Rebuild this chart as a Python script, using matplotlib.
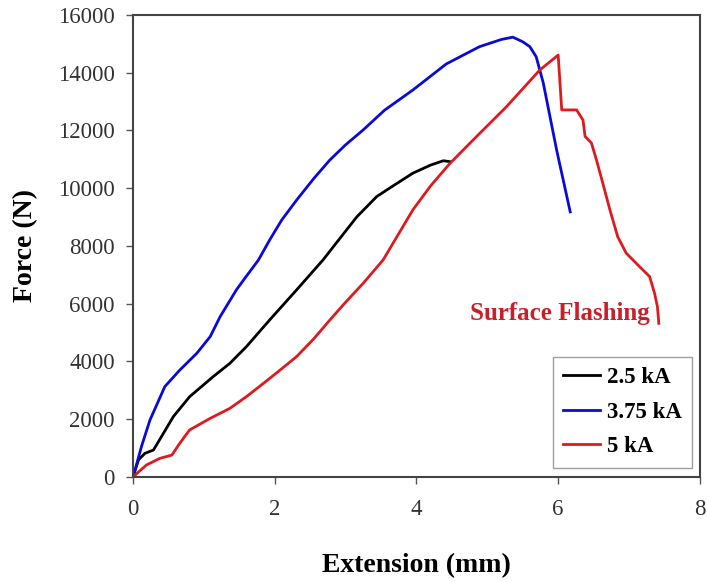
import matplotlib
matplotlib.use("Agg")
import matplotlib.pyplot as plt

# --- data ---
ext_25 = [0, 0.08, 0.17, 0.29, 0.43, 0.57, 0.80, 1.13, 1.37, 1.60, 1.93, 2.31, 2.68,
          3.16, 3.44, 3.62, 3.95, 4.20, 4.38, 4.47]
force_25 = [0, 600, 820, 935, 1510, 2090, 2780, 3470, 3940, 4510, 5440, 6480, 7510,
            9010, 9710, 10000, 10520, 10800, 10950, 10920]

ext_375 = [0, 0.03, 0.12, 0.24, 0.45, 0.66, 0.90, 1.09, 1.23, 1.46, 1.60, 1.77, 1.93,
           2.10, 2.31, 2.55, 2.78, 3.00, 3.25, 3.55, 3.95, 4.42, 4.89, 5.20, 5.36, 5.50,
           5.60, 5.69, 5.79, 5.98, 6.17]
force_375 = [0, 240, 1050, 1970, 3130, 3700, 4280, 4860, 5550, 6480, 6950, 7510, 8210,
             8900, 9590, 10330, 10980, 11500, 12020, 12700, 13400, 14300, 14900, 15150,
             15230, 15070, 14900, 14550, 13640, 11300, 9180]

ext_5 = [0, 0.19, 0.38, 0.55, 0.66, 0.80, 1.09, 1.37, 1.60, 1.84, 2.05, 2.31, 2.55, 2.78,
         3.00, 3.25, 3.53, 3.95, 4.20, 4.47, 4.80, 5.27, 5.74, 6.00, 6.05, 6.26, 6.35,
         6.38, 6.47, 6.54, 6.63, 6.73, 6.84, 6.96, 7.15, 7.29, 7.36, 7.40, 7.42]
force_5 = [0, 415, 645, 760, 1165, 1630, 2030, 2380, 2780, 3240, 3650, 4170, 4780, 5440,
           6050, 6710, 7515, 9250, 10080, 10850, 11670, 12820, 14090, 14610, 12710, 12710,
           12360, 11790, 11560, 10980, 10170, 9250, 8320, 7750, 7280, 6940, 6360, 5900,
           5320]

labels = ["2.5 kA", "3.75 kA", "5 kA"]
colors = ["#000000", "#0a0ad6", "#dd1a1e"]
x_ticks = [0, 2, 4, 6, 8]
y_ticks = [0, 2000, 4000, 6000, 8000, 10000, 12000, 14000, 16000]

plt.rcParams['font.family'] = ['Liberation Serif', 'DejaVu Serif']

fig = plt.figure(figsize=(7.07, 5.82), dpi=100)
ax = fig.add_axes([0.188, 0.1804, 0.802, 0.794])

series = [(ext_25, force_25), (ext_375, force_375), (ext_5, force_5)]
for (xs, ys), lab, col in zip(series, labels, colors):
    ax.plot(xs, ys, color=col, lw=2.0, label=lab, solid_joinstyle='round')

ax.set_xlim(0, 8)
ax.set_ylim(0, 16000)
ax.set_xticks(x_ticks)
ax.set_yticks(y_ticks)
ax.tick_params(direction='out', length=5, width=1.0, colors='#555555',
               labelcolor='#333333', labelsize=16.5)
ax.tick_params(axis='x', pad=11)
ax.tick_params(axis='y', pad=8)
for s in ax.spines.values():
    s.set_color('#444444')
    s.set_linewidth(1.5)

ax.set_xlabel("Extension (mm)", fontsize=20, fontweight='bold', labelpad=24)
ax.set_ylabel("Force (N)", fontsize=20, fontweight='bold', labelpad=14)

ax.text(4.75, 5437, "Surface Flashing", color='#c8202a', fontsize=18,
        fontweight='bold', va='baseline', ha='left')

leg = ax.legend(loc='lower right', bbox_to_anchor=(0.986, 0.02), borderaxespad=0,
                prop={'weight': 'bold', 'size': 16.5}, frameon=True, fancybox=False,
                handlelength=1.6, handletextpad=0.3, labelspacing=0.6,
                borderpad=0.45)
leg.get_frame().set_edgecolor('#888888')
leg.get_frame().set_linewidth(1.0)

fig.savefig("out.png", dpi=100)
